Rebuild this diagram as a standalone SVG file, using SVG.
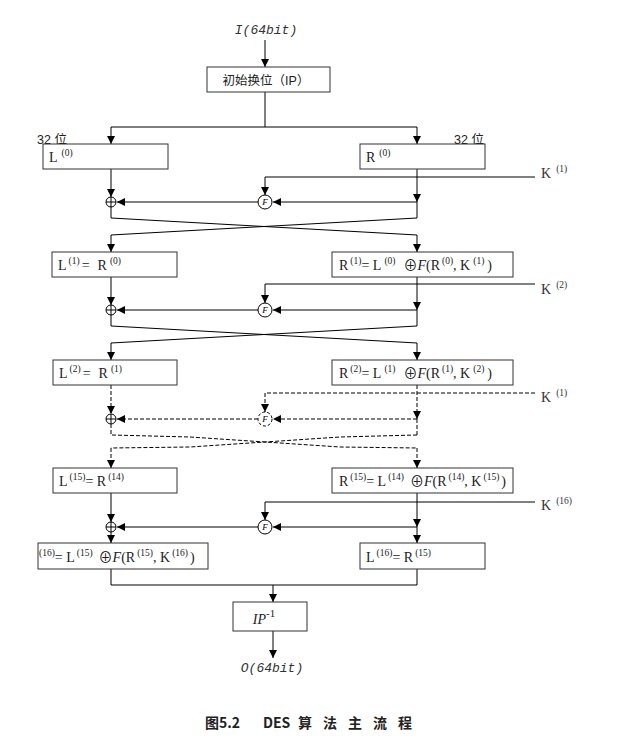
<svg xmlns="http://www.w3.org/2000/svg" width="623" height="745" viewBox="0 0 623 745">
<defs>
<marker id="ar" markerUnits="userSpaceOnUse" markerWidth="10" markerHeight="10" refX="8" refY="4" orient="auto">
<path d="M0,0 L8,4 L0,8 z" fill="#000"/>
</marker>
<style>
.ln{stroke:#000;stroke-width:1;fill:none}
.dl{stroke-dasharray:4,2}
.box{fill:#fff;stroke:#333;stroke-width:1}
.t{font-family:"Liberation Serif","Noto Sans CJK SC",serif;font-size:14px;fill:#222}
.s{font-size:9.5px}
.k{font-family:"Liberation Serif",serif;font-size:14px;fill:#333}
.cj{font-family:"Liberation Sans","Noto Sans CJK SC",sans-serif;font-size:12.5px;fill:#222}
.io{font-family:"Liberation Mono",monospace;font-style:italic;font-size:13px;fill:#333}
.cap{font-family:"Noto Sans CJK SC",sans-serif;font-size:14px;font-weight:bold;fill:#222}
.fc{fill:#fff;stroke:#000;stroke-width:1}
.fl{font-family:"Liberation Serif",serif;font-style:italic;font-size:9px;fill:#000}
</style>
</defs>
<rect width="623" height="745" fill="#fff"/>

<g id="connectors">
<line class="ln" x1="265" y1="40" x2="265" y2="67" marker-end="url(#ar)"/>
<polyline class="ln" points="265,92 265,127"/>
<polyline class="ln" points="111,127 417,127"/>
<line class="ln" x1="111" y1="127" x2="111" y2="144" marker-end="url(#ar)"/>
<line class="ln" x1="417" y1="127" x2="417" y2="144" marker-end="url(#ar)"/>

<line class="ln" x1="111" y1="169" x2="111" y2="197" marker-end="url(#ar)"/>
<line class="ln" x1="417" y1="169" x2="417" y2="202" marker-end="url(#ar)"/>
<polyline class="ln" points="417,202 417,218"/>
<line class="ln" x1="417" y1="202" x2="273" y2="202" marker-end="url(#ar)"/>
<line class="ln" x1="258" y1="202" x2="117" y2="202" marker-end="url(#ar)"/>
<polyline class="ln" points="535,177 265,177"/>
<line class="ln" x1="265" y1="177" x2="265" y2="195" marker-end="url(#ar)"/>
<polyline class="ln" points="111,207 111,218 417,235"/>
<polyline class="ln" points="417,218 111,235"/>
<line class="ln" x1="111" y1="235" x2="111" y2="252" marker-end="url(#ar)"/>
<line class="ln" x1="417" y1="235" x2="417" y2="252" marker-end="url(#ar)"/>

<line class="ln" x1="111" y1="277" x2="111" y2="305" marker-end="url(#ar)"/>
<line class="ln" x1="417" y1="277" x2="417" y2="310" marker-end="url(#ar)"/>
<polyline class="ln" points="417,310 417,326"/>
<line class="ln" x1="417" y1="310" x2="273" y2="310" marker-end="url(#ar)"/>
<line class="ln" x1="258" y1="310" x2="117" y2="310" marker-end="url(#ar)"/>
<polyline class="ln" points="535,284 265,284"/>
<line class="ln" x1="265" y1="284" x2="265" y2="303" marker-end="url(#ar)"/>
<polyline class="ln" points="111,315 111,326 417,343"/>
<polyline class="ln" points="417,326 111,343"/>
<line class="ln" x1="111" y1="343" x2="111" y2="360" marker-end="url(#ar)"/>
<line class="ln" x1="417" y1="343" x2="417" y2="360" marker-end="url(#ar)"/>

<line class="ln dl" x1="111" y1="385" x2="111" y2="414" marker-end="url(#ar)"/>
<line class="ln dl" x1="417" y1="385" x2="417" y2="419" marker-end="url(#ar)"/>
<polyline class="ln dl" points="417,419 417,435"/>
<line class="ln dl" x1="417" y1="419" x2="273" y2="419" marker-end="url(#ar)"/>
<line class="ln dl" x1="258" y1="419" x2="117" y2="419" marker-end="url(#ar)"/>
<polyline class="ln dl" points="535,393 265,393"/>
<line class="ln dl" x1="265" y1="393" x2="265" y2="412" marker-end="url(#ar)"/>
<polyline class="ln dl" points="111,424 111,435 190,437 340,447 417,448"/>
<polyline class="ln dl" points="417,435 340,437 190,447 111,448"/>
<line class="ln dl" x1="111" y1="448" x2="111" y2="468" marker-end="url(#ar)"/>
<line class="ln dl" x1="417" y1="448" x2="417" y2="468" marker-end="url(#ar)"/>

<line class="ln" x1="111" y1="493" x2="111" y2="522" marker-end="url(#ar)"/>
<line class="ln" x1="417" y1="493" x2="417" y2="527" marker-end="url(#ar)"/>
<line class="ln" x1="417" y1="527" x2="417" y2="543" marker-end="url(#ar)"/>
<line class="ln" x1="417" y1="527" x2="273" y2="527" marker-end="url(#ar)"/>
<line class="ln" x1="258" y1="527" x2="117" y2="527" marker-end="url(#ar)"/>
<polyline class="ln" points="535,502 265,502"/>
<line class="ln" x1="265" y1="502" x2="265" y2="520" marker-end="url(#ar)"/>
<line class="ln" x1="111" y1="532" x2="111" y2="543" marker-end="url(#ar)"/>

<polyline class="ln" points="111,569 111,585 417,585 417,569"/>
<line class="ln" x1="273" y1="585" x2="273" y2="602" marker-end="url(#ar)"/>
<line class="ln" x1="273" y1="631" x2="273" y2="658" marker-end="url(#ar)"/>
</g>

<g id="input"><text class="io" x="266" y="34" text-anchor="middle">I(64bit)</text></g>

<g id="ip">
<rect class="box" x="207" y="67" width="123" height="25"/>
<text class="cj" x="266" y="85" text-anchor="middle">初始换位（IP）</text>
</g>

<g id="lbl32">
<text class="cj" x="37" y="144">32 位</text>
<text class="cj" x="454" y="144">32 位</text>
</g>

<g id="L0"><rect class="box" x="43" y="144" width="125" height="25"/>
<text class="t" x="49" y="162" font-size="13">L<tspan class="s" dx="4" dy="-6">(0)</tspan></text></g>
<g id="R0"><rect class="box" x="360" y="144" width="125" height="25"/>
<text class="t" x="366" y="162" font-size="13">R<tspan class="s" dx="4" dy="-6">(0)</tspan></text></g>

<g id="K1"><text class="k" x="541" y="178">K<tspan class="s" dx="5" dy="-6">(1)</tspan></text></g>
<g id="F1"><circle class="fc" cx="265" cy="202" r="7"/><text class="fl" x="265" y="205" text-anchor="middle">F</text></g>
<g id="X1"><circle class="fc" cx="111" cy="202" r="5"/><path class="ln" d="M106,202 H116 M111,197 V207"/></g>

<g id="L1"><rect class="box" x="52" y="252" width="125" height="25"/>
<text class="t" x="58" y="270">L<tspan class="s" dx="2" dy="-6">(1)</tspan><tspan dy="6" dx="2">=</tspan><tspan dx="8">R</tspan><tspan class="s" dx="3" dy="-6">(0)</tspan></text></g>
<g id="R1"><rect class="box" x="332" y="252" width="181" height="25"/>
<text class="t" x="339" y="270">R<tspan class="s" dx="2" dy="-6">(1)</tspan><tspan dy="6">= L</tspan><tspan class="s" dx="3" dy="-6">(0)</tspan><tspan dy="6" dx="8">⊕<tspan font-style="italic">F</tspan>(R</tspan><tspan class="s" dx="2" dy="-6">(0)</tspan><tspan dy="6">,  K</tspan><tspan class="s" dx="3" dy="-6">(1)</tspan><tspan dy="6" dx="3">)</tspan></text></g>

<g id="K2"><text class="k" x="541" y="294">K<tspan class="s" dx="5" dy="-6">(2)</tspan></text></g>
<g id="F2"><circle class="fc" cx="265" cy="310" r="7"/><text class="fl" x="265" y="313" text-anchor="middle">F</text></g>
<g id="X2"><circle class="fc" cx="111" cy="310" r="5"/><path class="ln" d="M106,310 H116 M111,305 V315"/></g>

<g id="L2"><rect class="box" x="53" y="360" width="124" height="25"/>
<text class="t" x="59" y="378">L<tspan class="s" dx="2" dy="-6">(2)</tspan><tspan dy="6" dx="2">=</tspan><tspan dx="8">R</tspan><tspan class="s" dx="3" dy="-6">(1)</tspan></text></g>
<g id="R2"><rect class="box" x="332" y="360" width="181" height="25"/>
<text class="t" x="339" y="378">R<tspan class="s" dx="2" dy="-6">(2)</tspan><tspan dy="6">= L</tspan><tspan class="s" dx="3" dy="-6">(1)</tspan><tspan dy="6" dx="8">⊕<tspan font-style="italic">F</tspan>(R</tspan><tspan class="s" dx="2" dy="-6">(1)</tspan><tspan dy="6">,  K</tspan><tspan class="s" dx="3" dy="-6">(2)</tspan><tspan dy="6" dx="3">)</tspan></text></g>

<g id="Ki"><text class="k" x="541" y="402">K<tspan class="s" dx="5" dy="-6">(1)</tspan></text></g>
<g id="Fi"><circle class="fc" cx="265" cy="419" r="7" stroke-dasharray="3,2"/><text class="fl" x="265" y="422" text-anchor="middle">F</text></g>
<g id="Xi"><circle class="fc" cx="111" cy="419" r="5"/><path class="ln" d="M106,419 H116 M111,414 V424"/></g>

<g id="L15"><rect class="box" x="53" y="468" width="124" height="25"/>
<text class="t" x="59" y="486">L<tspan class="s" dx="2" dy="-6">(15)</tspan><tspan dy="6">= R</tspan><tspan class="s" dx="2" dy="-6">(14)</tspan></text></g>
<g id="R15"><rect class="box" x="332" y="468" width="181" height="25"/>
<text class="t" x="339" y="486">R<tspan class="s" dx="2" dy="-6">(15)</tspan><tspan dy="6">= L</tspan><tspan class="s" dx="2" dy="-6">(14)</tspan><tspan dy="6" dx="6">⊕<tspan font-style="italic">F</tspan>(R</tspan><tspan class="s" dx="2" dy="-6">(14)</tspan><tspan dy="6">,  K</tspan><tspan class="s" dx="2" dy="-6">(15)</tspan><tspan dy="6" dx="2">)</tspan></text></g>

<g id="K16"><text class="k" x="541" y="510">K<tspan class="s" dx="5" dy="-6">(16)</tspan></text></g>
<g id="F16"><circle class="fc" cx="265" cy="527" r="7"/><text class="fl" x="265" y="530" text-anchor="middle">F</text></g>
<g id="X16"><circle class="fc" cx="111" cy="527" r="5"/><path class="ln" d="M106,527 H116 M111,522 V532"/></g>

<g id="R16"><rect class="box" x="38" y="543" width="170" height="26"/>
<text class="t" x="39" y="562"><tspan class="s" dy="-6">(16)</tspan><tspan dy="6">= L</tspan><tspan class="s" dx="2" dy="-6">(15)</tspan><tspan dy="6" dx="6">⊕<tspan font-style="italic">F</tspan>(R</tspan><tspan class="s" dx="2" dy="-6">(15)</tspan><tspan dy="6">,  K</tspan><tspan class="s" dx="2" dy="-6">(16)</tspan><tspan dy="6" dx="2">)</tspan></text></g>
<g id="L16"><rect class="box" x="360" y="543" width="125" height="26"/>
<text class="t" x="366" y="562">L<tspan class="s" dx="2" dy="-6">(16)</tspan><tspan dy="6">= R</tspan><tspan class="s" dx="2" dy="-6">(15)</tspan></text></g>

<g id="ipinv"><rect class="box" x="233" y="602" width="74" height="29"/>
<text class="t" x="264" y="624" text-anchor="middle" font-style="italic" font-size="17">IP<tspan font-style="normal" font-size="11" dy="-7">-1</tspan></text></g>

<g id="output"><text class="io" x="272" y="672" text-anchor="middle">O(64bit)</text></g>

<g id="caption">
<text class="cap" x="205" y="728">图5.2</text>
<text class="cap" x="263" y="728">DES</text>
<text class="cap" x="298" y="728">算</text>
<text class="cap" x="323" y="728">法</text>
<text class="cap" x="348" y="728">主</text>
<text class="cap" x="373" y="728">流</text>
<text class="cap" x="398" y="728">程</text>
</g>
</svg>
